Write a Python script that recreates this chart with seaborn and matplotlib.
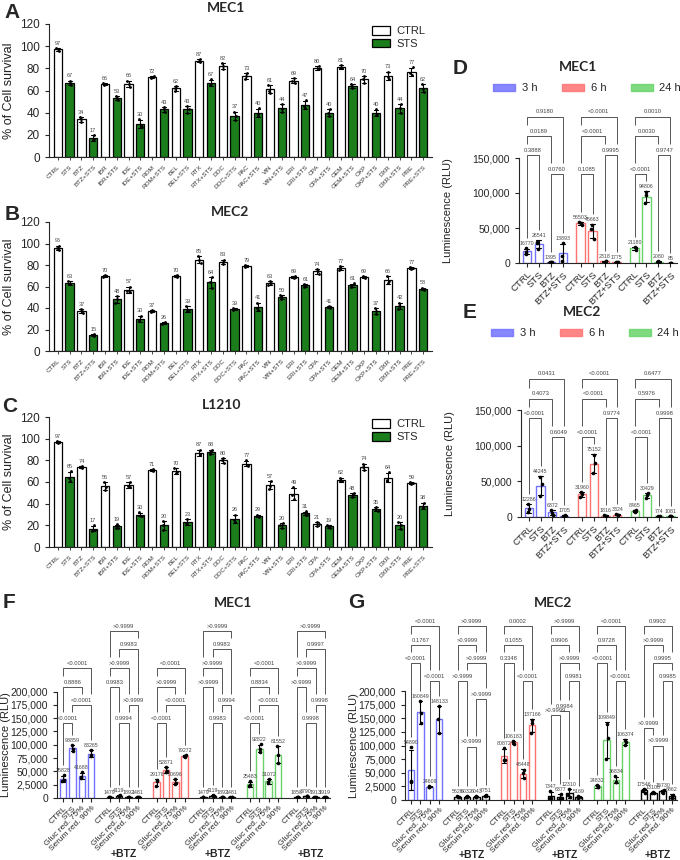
import numpy as np
import pandas as pd
import matplotlib
matplotlib.use('Agg')
import matplotlib.pyplot as plt
from matplotlib.patches import Patch
import seaborn as sns

sns.set_style('ticks')
plt.rcParams['font.family'] = ['Liberation Sans', 'DejaVu Sans']
plt.rcParams['axes.linewidth'] = 0.8
np.random.seed(7)

W, H = 680, 860
GREEN = '#1b7d1b'
BLUE, RED, LIME = '#7272ff', '#ff7272', '#6ad46a'
TXT = '#444444'
LINE = '#555555'

# ---------------- A-C: cell survival (%) ----------------
drugs = ['CTRL', 'STS', 'BTZ', 'BTZ+STS', 'IBR', 'IBR+STS', 'IDE', 'IDE+STS',
         'ROM', 'ROM+STS', 'BEL', 'BEL+STS', 'RTX', 'RTX+STS', 'DOC', 'DOC+STS',
         'PAC', 'PAC+STS', 'VIN', 'VIN+STS', 'ERI', 'ERI+STS', 'CPA', 'CPA+STS',
         'GEM', 'GEM+STS', 'OXP', 'OXP+STS', 'DXR', 'DXR+STS', 'PRE', 'PRE+STS']
mec1_surv = [97, 67, 34, 17, 66, 53, 66, 30, 72, 43, 62, 43, 87, 67, 82, 37,
             73, 40, 61, 44, 69, 47, 80, 40, 81, 64, 70, 40, 73, 44, 77, 62]
mec2_surv = [96, 63, 37, 15, 70, 48, 57, 30, 37, 26, 70, 39, 85, 64, 83, 39,
             79, 41, 63, 50, 69, 61, 74, 41, 77, 61, 69, 37, 66, 42, 77, 58]
l1210_surv = [97, 65, 74, 17, 56, 19, 57, 30, 71, 20, 70, 23, 87, 88, 80, 26,
              77, 29, 57, 20, 49, 31, 21, 19, 62, 48, 74, 35, 64, 20, 59, 38]
# replicate deviations from the mean (3 wells per condition)
mec1_dev = [(1, -1, 0), (2, -2, 0), (-2, 2, 0), (-2, 3, -1), (0, 1, -1), (-2, 2, 0), (-3, 3, 0), (-3, 4, -1),
            (1, -1, 0), (-2, 2, 0), (-2, 2, 0), (-3, 3, 0), (1, 0, -1), (-2, 3, -1), (-3, 3, 0), (-4, 4, 0),
            (-3, 3, 0), (-3, 4, -1), (-3, 4, -1), (-3, 4, -1), (-2, 2, 0), (-3, 4, -1), (-1, 2, -1), (-3, 3, 0),
            (-1, 2, -1), (-2, 2, 0), (-3, 3, 0), (-2, 3, -1), (-3, 4, -1), (-4, 4, 0), (-3, 4, -1), (-3, 4, -1)]
mec2_dev = [(-2, 2, 0), (-1, 2, -1), (-2, 2, 0), (-1, 1, 0), (-1, 1, 0), (-3, 3, 0), (-2, 3, -1), (-2, 3, -1),
            (0, 1, -1), (0, 1, -1), (0, 1, -1), (-2, 3, -1), (-3, 3, 0), (-5, 5, 0), (-2, 2, 0), (-1, 1, 0),
            (0, 1, -1), (-3, 4, -1), (-2, 2, 0), (-2, 2, 0), (-1, 1, 0), (-1, 1, 0), (-2, 2, 0), (-1, 1, 0),
            (-2, 2, 0), (-1, 2, -1), (-1, 1, 0), (-3, 3, 0), (-3, 4, -1), (-3, 3, 0), (-1, 1, 0), (-1, 1, 0)]
l1210_dev = [(1, -1, 0), (-4, 5, -1), (1, -1, 0), (-2, 3, -1), (-3, 4, -1), (-1, 2, -1), (-2, 3, -1), (-1, 2, -1),
             (-1, 1, 0), (-4, 4, 0), (-2, 3, -1), (-2, 3, -1), (-2, 3, -1), (-2, 2, 0), (-2, 2, 0), (-3, 4, -1),
             (-2, 3, -1), (-1, 1, 0), (-3, 4, -1), (-2, 2, 0), (-5, 6, -1), (-1, 2, -1), (-2, 2, 0), (0, 1, -1),
             (-1, 2, -1), (-2, 2, 0), (-3, 3, 0), (-2, 2, 0), (-3, 5, -2), (-3, 3, 0), (-1, 1, 0), (-2, 3, -1)]

# ---------------- D-E: time course (RLU), groups 3h / 6h / 24h ----------------
time_cond = ['CTRL', 'STS', 'BTZ', 'BTZ+STS']
time_names = ['3 h', '6 h', '24 h']
d_labels = [[16770, 26541, 1395, 13893], [56503, 45663, 2318, 1775], [21180, 94806, 2080, 85]]
d_reps = [[[13500, 15800, 21000], [20000, 29000, 30600], [900, 1400, 1900], [3000, 9700, 29000]],
          [[55000, 56500, 58000], [34000, 49000, 54000], [2000, 2300, 2650], [1500, 1800, 2025]],
          [[19000, 21500, 23040], [86000, 97000, 101400], [1700, 2100, 2440], [40, 80, 135]]]
d_pvals = [['0.3888', '0.0760', '0.0189', '0.9180'],
           ['0.1085', '0.9995', '<0.0001', '<0.0001'],
           ['<0.0001', '0.9747', '0.0030', '0.0010']]
e_labels = [[12286, 44245, 6372, 1705], [31960, 75152, 1816, 3324], [8465, 30429, 774, 1081]]
e_reps = [[[6500, 11800, 18560], [30000, 47000, 55700], [3000, 6000, 10100], [1200, 1700, 2200]],
          [[28000, 32500, 35400], [62000, 76000, 87500], [1500, 1800, 2150], [2800, 3300, 3870]],
          [[6500, 8400, 10500], [27000, 30500, 33800], [500, 770, 1050], [800, 1080, 1360]]]
e_pvals = [['<0.0001', '0.6049', '0.4073', '0.0431'],
           ['<0.0001', '0.9774', '<0.0001', '<0.0001'],
           ['<0.0001', '0.9998', '0.5976', '0.6477']]

# ---------------- F-G: nutrient restriction (RLU) ----------------
nutr_cond = ['CTRL', 'STS', 'Gluc red. 75%', 'Serum red. 90%']
f_labels = [[35828, 93859, 41688, 83265], [1479, 4119, 1892, 1481],
            [29176, 52871, 30696, 79272], [1479, 4119, 1892, 1481],
            [25483, 92822, 31072, 81552], [1858, 3790, 1913, 1919]]
f_reps = [[[31000, 33500, 43000], [89000, 92500, 100000], [37000, 39500, 48500], [78000, 81500, 90300]],
          [[1200, 1500, 1740], [3000, 4000, 5360], [1500, 1900, 2280], [1200, 1480, 1760]],
          [[22000, 32000, 33500], [48000, 51500, 59100], [27000, 29000, 36100], [77500, 79500, 80800]],
          [[1200, 1500, 1740], [3000, 4000, 5360], [1500, 1900, 2280], [1200, 1480, 1760]],
          [[22000, 23500, 31000], [86000, 92000, 100500], [28000, 29500, 35700], [66000, 81000, 97600]],
          [[1500, 1850, 2220], [3000, 3800, 4570], [1600, 1900, 2240], [1600, 1920, 2240]]]
f_pvals = [['<0.0001', '<0.0001', '0.8886', '<0.0001'],
           ['0.9994', '>0.9999', '0.9983', '>0.9999', '0.9983', '>0.9999'],
           ['<0.0001', '<0.0001', '>0.9999', '<0.0001'],
           ['0.9983', '0.9994', '>0.9999', '>0.9999', '0.9983', '>0.9999'],
           ['<0.0001', '<0.0001', '0.8834', '<0.0001'],
           ['0.9998', '0.9998', '>0.9999', '>0.9999', '0.9997', '>0.9999']]
g_labels = [[54890, 160849, 24609, 148133], [5626, 6032, 6043, 7751],
            [80872, 106183, 48448, 137166], [7347, 6377, 12310, 5169],
            [24832, 109849, 36834, 106374], [17546, 13108, 15730, 6862]]
g_reps = [[[33000, 35000, 96700], [141000, 160000, 181500], [23500, 24600, 25700], [124000, 148000, 172400]],
          [[4800, 5600, 6480], [5200, 6000, 6900], [5300, 6000, 6830], [6800, 7800, 8650]],
          [[73000, 74000, 95600], [103000, 106500, 109000], [40000, 50000, 55300], [123000, 142000, 146500]],
          [[2800, 3500, 15700], [3000, 4500, 11600], [6000, 10000, 20900], [3500, 5000, 7000]],
          [[23000, 24500, 27000], [75000, 114000, 140500], [33000, 33500, 44000], [101000, 107000, 111100]],
          [[13500, 19000, 20100], [12000, 13100, 14200], [12500, 16000, 18700], [3000, 8000, 9600]]]
g_pvals = [['<0.0001', '<0.0001', '0.1767', '<0.0001'],
           ['>0.9999', '>0.9999', '>0.9999', '>0.9999', '>0.9999', '>0.9999'],
           ['<0.0001', '0.3348', '0.1055', '0.0002'],
           ['>0.9999', '0.9984', '0.9981', '>0.9999', '0.9906', '>0.9999'],
           ['<0.0001', '<0.0001', '0.9728', '<0.0001'],
           ['>0.9999', '>0.9999', '0.9985', '0.9995', '>0.9999', '0.9902']]

# bracket layout: (bar i, bar j, line height in thousands)
D_BR = [[(0, 1, 154), (2, 3, 127), (0, 2, 181), (0, 3, 209)],
        [(0, 1, 127), (2, 3, 154), (0, 2, 181), (0, 3, 209)],
        [(0, 1, 127), (2, 3, 154), (0, 2, 181), (0, 3, 209)]]
E_BR = [[(0, 1, 139), (2, 3, 112), (0, 2, 166), (0, 3, 194)],
        [(0, 1, 112), (2, 3, 139), (0, 2, 166), (0, 3, 194)],
        [(0, 1, 112), (2, 3, 139), (0, 2, 166), (0, 3, 194)]]
F_COL = [(0, 1, 140), (1, 3, 174), (0, 2, 208), (0, 3, 244)]
F_BTZ = [(1, 2, 140), (2, 3, 174), (0, 1, 208), (0, 2, 244), (1, 3, 279), (0, 3, 313)]
F_BR = [F_COL, F_BTZ, F_COL, F_BTZ, F_COL, F_BTZ]
G_COL = [(2, 3, 218), (0, 1, 251), (0, 2, 284), (0, 3, 319)]
G_BR = [G_COL,
        [(1, 2, 98), (2, 3, 185), (0, 1, 218), (1, 3, 251), (0, 2, 284), (0, 3, 319)],
        G_COL,
        [(0, 1, 156), (1, 2, 163), (2, 3, 218), (1, 3, 251), (0, 2, 284), (0, 3, 319)],
        G_COL,
        [(1, 2, 100), (0, 1, 132), (2, 3, 218), (1, 3, 251), (0, 2, 284), (0, 3, 319)]]

fig = plt.figure(figsize=(W / 100, H / 100), dpi=100)


def px_rect(l, t, r, b):
    return [l / W, 1 - b / H, (r - l) / W, (b - t) / H]


def ftext(x, y, s, **kw):
    fig.text(x / W, 1 - y / H, s, ha='center', va='center', **kw)


def survival_panel(rect, means, devs, legend):
    ax = fig.add_axes(rect)
    rows = []
    for d, m, dv in zip(drugs, means, devs):
        for v in dv:
            rows.append((d, 'STS' if d.endswith('STS') else 'CTRL', m + v))
    df = pd.DataFrame(rows, columns=['drug', 'kind', 'val'])
    sns.barplot(df, x='drug', y='val', hue='kind', order=drugs, hue_order=['CTRL', 'STS'],
                palette={'CTRL': 'white', 'STS': GREEN}, saturation=1, dodge=False, width=0.7,
                edgecolor='black', linewidth=0.9, errorbar='sd', capsize=0.35,
                err_kws={'color': 'black', 'linewidth': 0.8}, legend=False, ax=ax)
    sns.stripplot(df, x='drug', y='val', order=drugs, color='black', size=2, jitter=0.15, ax=ax)
    st = df.groupby('drug')['val'].agg(['mean', 'std', 'max'])
    for i, d in enumerate(drugs):
        top = max(st.loc[d, 'mean'] + st.loc[d, 'std'], st.loc[d, 'max'])
        ax.text(i, top + 2, str(means[i]), ha='center', va='bottom', fontsize=4, color=TXT)
    ax.set_xlim(-0.75, len(drugs) - 0.25)
    ax.set_ylim(0, 120)
    ax.set_yticks(range(0, 121, 20))
    ax.set_xlabel('')
    ax.set_ylabel('% of Cell survival', fontsize=9, color='#222')
    ax.tick_params(axis='y', labelsize=8.5, length=3, width=0.8)
    ax.tick_params(axis='x', labelsize=4.6, length=2, width=0.6, labelcolor='#333')
    plt.setp(ax.get_xticklabels(), rotation=45, ha='right', rotation_mode='anchor')
    sns.despine(ax=ax)
    if legend:
        ax.legend(handles=[Patch(facecolor='white', edgecolor='black', linewidth=0.9),
                           Patch(facecolor=GREEN, edgecolor='black', linewidth=0.9)],
                  labels=['CTRL', 'STS'], frameon=False, fontsize=8, loc='upper right',
                  bbox_to_anchor=(1.01, 1.06), handlelength=1.6, handleheight=0.8,
                  labelspacing=0.25, handletextpad=0.6)
    return ax


def brackets(ax, xs, floors, pairs, pvals, dpp):
    lift = 2.5 * dpp
    gap = 11 * dpp
    for (i, j, h), p in zip(pairs, pvals):
        h = h * 1000
        for k in (i, j):
            below = [hh * 1000 for (a, b, hh) in pairs if hh * 1000 < h and a <= k <= b]
            bot = max(below) + gap if below else floors[k]
            if bot < h:
                ax.plot([xs[k], xs[k]], [bot, h], color=LINE, lw=0.7, solid_capstyle='butt')
        ax.plot([xs[i], xs[j]], [h, h], color=LINE, lw=0.7)
        ax.text((xs[i] + xs[j]) / 2, h + lift, p, ha='center', va='bottom', fontsize=4.2, color=TXT)


def rlu_panel(rect, reps, labels, pvals, br, offsets, colors, ymax, ylim_top, yticks, yticklabels,
              conds, label_x, px_h, xsize):
    ax = fig.add_axes(rect)
    dpp = ymax / px_h
    allx = []
    for g, off in enumerate(offsets):
        xs = [off + i for i in range(len(conds))]
        allx += xs
        rows = [(xs[i], v) for i in range(len(conds)) for v in reps[g][i]]
        sub = pd.DataFrame(rows, columns=['pos', 'val'])
        sns.barplot(sub, x='pos', y='val', native_scale=True, color='white', saturation=1,
                    edgecolor=colors[g], linewidth=1.0, width=0.7, errorbar='sd', capsize=0.4,
                    err_kws={'color': 'black', 'linewidth': 0.8}, ax=ax)
        sns.stripplot(sub, x='pos', y='val', native_scale=True, color='black', size=2.6,
                      jitter=0.12, ax=ax)
        st = sub.groupby('pos')['val'].agg(['mean', 'std', 'max'])
        floors = []
        for i, x in enumerate(xs):
            top = max(st.loc[x, 'mean'] + st.loc[x, 'std'], st.loc[x, 'max']) + 2 * dpp
            ax.text(x, top, str(labels[g][i]), ha='center', va='bottom', fontsize=3.8, color=TXT)
            floors.append(top + 8 * dpp)
        brackets(ax, xs, floors, br[g], pvals[g], dpp)
    ax.set_ylim(0, ymax)
    ax.spines['left'].set_bounds(0, ylim_top)
    ax.set_yticks(yticks)
    ax.set_yticklabels(yticklabels)
    ax.set_xticks(allx)
    ax.set_xticklabels(conds * len(offsets))
    ax.set_xlim(offsets[0] - 0.65, allx[-1] + 0.55)
    ax.set_xlabel('')
    ax.set_ylabel('Luminescence (RLU)', fontsize=8, color='#222')
    ax.yaxis.set_label_coords(label_x, ylim_top / 2 / ymax)
    ax.tick_params(axis='y', labelsize=7.5, length=3, width=0.8)
    ax.tick_params(axis='x', labelsize=xsize, length=3, width=0.8, pad=2)
    plt.setp(ax.get_xticklabels(), rotation=45, ha='right', rotation_mode='anchor')
    sns.despine(ax=ax)
    return ax


# A-C
survival_panel(px_rect(49, 24, 432, 157), mec1_surv, mec1_dev, True)
survival_panel(px_rect(49, 222, 432, 351), mec2_surv, mec2_dev, False)
survival_panel(px_rect(49, 417, 432, 547), l1210_surv, l1210_dev, True)

# D-E
t_off = [0, 4.5, 9]
t_ticks = [0, 50000, 100000, 150000]
t_tl = ['0', '50,000', '100,000', '150,000']
leg_handles = [Patch(facecolor=c, edgecolor=c, alpha=0.85) for c in (BLUE, RED, LIME)]
axd = rlu_panel(px_rect(519, 102, 677, 263), d_reps, d_labels, d_pvals, D_BR, t_off,
                [BLUE, RED, LIME], 230000, 150000, t_ticks, t_tl, time_cond, -0.42, 161, 6.8)
axd.legend(leg_handles, time_names, ncol=3, frameon=False, fontsize=8, loc='center',
           bbox_to_anchor=(0.43, 1.085), handlelength=2.0, handleheight=0.6, columnspacing=2.2,
           handletextpad=0.6)
axe = rlu_panel(px_rect(521, 364, 677, 517), e_reps, e_labels, e_pvals, E_BR, t_off,
                [BLUE, RED, LIME], 215000, 150000, t_ticks, t_tl, time_cond, -0.42, 153, 6.8)
axe.legend(leg_handles, time_names, ncol=3, frameon=False, fontsize=8, loc='center',
           bbox_to_anchor=(0.41, 1.2), handlelength=2.0, handleheight=0.6, columnspacing=2.2,
           handletextpad=0.6)

# F-G
n_off = [0, 5, 10, 15, 20, 25]
n_cols = [BLUE, 'black', RED, 'black', LIME, 'black']
n_ticks = list(range(0, 200001, 25000))
n_tl = ['0', '2,5000', '50,000', '75,000', '100,000', '125,000', '150,000', '175,000', '200,000']
axf = rlu_panel(px_rect(57, 617, 330, 798), f_reps, f_labels, f_pvals, F_BR, n_off, n_cols,
                340000, 200000, n_ticks, n_tl, nutr_cond, -0.17, 181, 6.0)
axg = rlu_panel(px_rect(405, 615, 677, 800), g_reps, g_labels, g_pvals, G_BR, n_off, n_cols,
                340000, 200000, n_ticks, n_tl, nutr_cond, -0.17, 185, 6.0)
for ax, yb in ((axf, -(854 - 798) / 181), (axg, -(855 - 800) / 185)):
    for off in n_off[1::2]:
        ax.text(off + 1.5, yb, '+BTZ', transform=ax.get_xaxis_transform(), ha='center',
                va='center', fontsize=7.5, fontweight='bold', clip_on=False)

# letters and titles
for x, y, s in [(12, 12, 'A'), (12, 214, 'B'), (10, 406, 'C'), (460, 68, 'D'),
                (470, 313, 'E'), (9, 603, 'F'), (356, 603, 'G')]:
    ftext(x, y, s, fontsize=15, fontweight='bold')
for x, y, s in [(226, 8, 'MEC1'), (230, 212, 'MEC2'), (222, 405, 'L1210'), (578, 67, 'MEC1'),
                (582, 312, 'MEC2'), (233, 603, 'MEC1'), (553, 603, 'MEC2')]:
    ftext(x, y, s, fontsize=10, fontweight='bold', family=['Lato', 'DejaVu Sans'])

fig.savefig('out.png', dpi=100)
